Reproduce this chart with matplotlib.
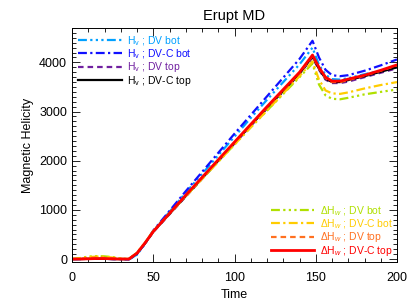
import numpy as np
import matplotlib
matplotlib.use("Agg")
import matplotlib.pyplot as plt
from matplotlib.ticker import MultipleLocator

plt.rcParams['font.family'] = ['Liberation Sans', 'DejaVu Sans']
plt.rcParams['mathtext.fontset'] = 'custom'
plt.rcParams['mathtext.rm'] = 'Liberation Sans'
plt.rcParams['mathtext.it'] = 'Liberation Sans:italic'

t = [0, 5, 10, 15, 20, 25, 30, 35, 40, 45, 50, 60, 70, 80, 90, 100, 110, 120,
     130, 140, 148, 152, 156, 160, 165, 170, 180, 190, 200]

hv_dv_bot = [0, 0, 5, 5, 5, 0, 0, -10, 90, 310, 570, 960, 1350, 1730, 2110, 2490, 2870,
             3240, 3600, 3960, 4300, 3950, 3750, 3660, 3650, 3680, 3760, 3830, 3900]
hv_dvc_bot = [0, 0, 5, 5, 5, 0, 0, -10, 100, 320, 580, 980, 1380, 1770, 2160, 2550, 2930,
              3310, 3690, 4070, 4440, 4100, 3850, 3740, 3720, 3740, 3830, 3940, 4060]
hv_dv_top = [0, 0, 5, 5, 5, 0, 0, 0, 110, 320, 550, 910, 1270, 1630, 1990, 2350, 2710,
             3060, 3410, 3760, 4100, 3850, 3650, 3580, 3580, 3610, 3700, 3790, 3880]
hv_dvc_top = [0, 0, 5, 5, 5, 0, 0, 0, 115, 325, 555, 920, 1280, 1640, 2000, 2360, 2720,
              3070, 3420, 3770, 4120, 3870, 3670, 3600, 3600, 3640, 3720, 3810, 3900]

dhw_dv_bot = [0, 20, 50, 60, 55, 40, 10, 0, 130, 340, 570, 930, 1280, 1630, 1980, 2330, 2680,
              3020, 3360, 3700, 3980, 3550, 3330, 3260, 3250, 3280, 3350, 3400, 3450]
dhw_dvc_bot = [0, 15, 40, 50, 45, 30, 10, 0, 125, 335, 565, 925, 1280, 1630, 1980, 2330, 2680,
               3020, 3370, 3720, 4020, 3650, 3430, 3370, 3360, 3390, 3470, 3540, 3600]
dhw_dv_top = [0, 5, 20, 30, 25, 15, 5, 0, 120, 330, 560, 925, 1290, 1650, 2010, 2370, 2730,
              3080, 3430, 3780, 4130, 3880, 3680, 3600, 3600, 3640, 3730, 3830, 3940]
dhw_dvc_top = [0, 0, 5, 10, 10, 5, 0, 0, 120, 330, 560, 930, 1300, 1660, 2020, 2380, 2740,
               3100, 3450, 3800, 4150, 3900, 3700, 3620, 3620, 3660, 3740, 3840, 3950]

fig = plt.figure(figsize=(4.07, 3.06), dpi=100)
ax = fig.add_axes([72/407, 44/306, 325/407, 234/306])

lw = 1.6
dash_3dot = (0, (4, 1.5, 1, 1.5, 1, 1.5, 1, 1.5))
dash_dot = (0, (4, 1.5, 1, 1.5))
dashed = (0, (2.5, 1.8))
top_lines = [
    ax.plot(t, hv_dv_bot, color='#00a0ff', lw=lw, ls=dash_3dot)[0],
    ax.plot(t, hv_dvc_bot, color='#1010ff', lw=lw, ls=dash_dot)[0],
    ax.plot(t, hv_dv_top, color='#7020a0', lw=lw, ls=dashed)[0],
    ax.plot(t, hv_dvc_top, color='black', lw=lw, ls='-')[0],
]
bot_lines = [
    ax.plot(t, dhw_dv_bot, color='#b0e000', lw=lw, ls=dash_3dot)[0],
    ax.plot(t, dhw_dvc_bot, color='#ffcc00', lw=lw, ls=dash_dot)[0],
    ax.plot(t, dhw_dv_top, color='#ff7020', lw=lw, ls=dashed)[0],
    ax.plot(t, dhw_dvc_top, color='#ff0000', lw=2.0, ls='-')[0],
]

ax.set_xlim(0, 200)
ax.set_ylim(-60, 4700)
ax.xaxis.set_major_locator(MultipleLocator(50))
ax.xaxis.set_minor_locator(MultipleLocator(10))
ax.yaxis.set_major_locator(MultipleLocator(1000))
ax.yaxis.set_minor_locator(MultipleLocator(100))
ax.tick_params(which='both', direction='in', top=True, right=True, labelsize=9)
ax.tick_params(which='major', length=6, width=0.6)
ax.tick_params(which='minor', length=3, width=0.6)
ax.tick_params(axis='x', pad=7)
for s in ax.spines.values():
    s.set_linewidth(0.7)

ax.set_xlabel('Time', fontsize=9)
ax.set_ylabel('Magnetic Helicity', fontsize=9)
ax.set_title('Erupt MD', fontsize=10.5, pad=6)

top_labels = [r'H$_\mathrm{v}$ ; DV bot', r'H$_\mathrm{v}$ ; DV-C bot',
              r'H$_\mathrm{v}$ ; DV top', r'H$_\mathrm{v}$ ; DV-C top']
bot_labels = [r'$\mathrm{\Delta}$H$_w$ ; DV bot', r'$\mathrm{\Delta}$H$_w$ ; DV-C bot',
              r'$\mathrm{\Delta}$H$_w$ ; DV top', r'$\mathrm{\Delta}$H$_w$ ; DV-C top']

leg1 = ax.legend(top_lines, top_labels, loc='upper left', frameon=False, fontsize=7.5,
                 handlelength=4.2, labelspacing=-0.05, borderaxespad=0.2, handletextpad=0.5)
for txt, ln in zip(leg1.get_texts(), top_lines):
    txt.set_color(ln.get_color())
ax.add_artist(leg1)
leg2 = ax.legend(bot_lines, bot_labels, loc='lower right', frameon=False, fontsize=7.5,
                 handlelength=4.2, labelspacing=-0.05, borderaxespad=0.0, handletextpad=0.5)
for txt, ln in zip(leg2.get_texts(), bot_lines):
    txt.set_color(ln.get_color())

fig.savefig('out.png', dpi=100)
